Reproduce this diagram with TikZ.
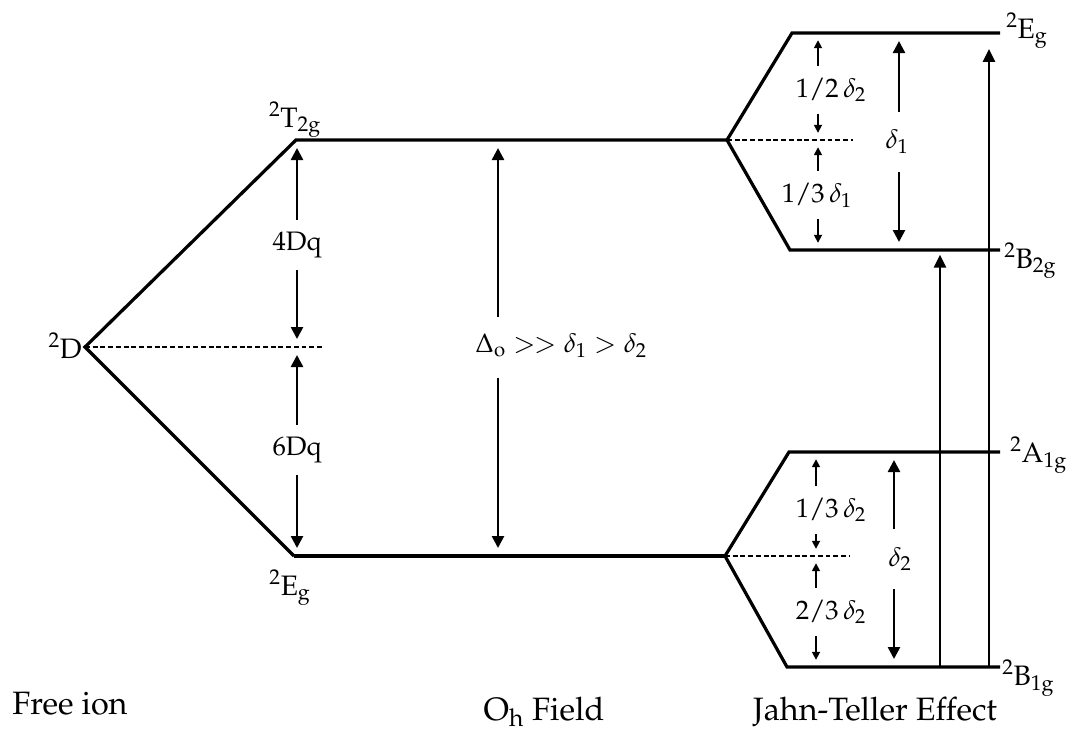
\documentclass[tikz,border=0pt]{standalone}
\usepackage[T1]{fontenc}
\usepackage{mathpazo}
\usetikzlibrary{arrows.meta}

\newcommand{\term}[2]{$^{2}\mathrm{#1}_{\mathrm{#2}}$}

\begin{document}
\begin{tikzpicture}[x=0.025cm,y=-0.025cm,
  level/.style={line width=2.3pt},
  guide/.style={line width=1.5pt,dash pattern=on 3.5pt off 2pt},
  gap/.style={-{Triangle[length=0.3cm,width=0.3cm]},line width=1.8pt,shorten >=0.2cm},
  smallgap/.style={-{Triangle[length=0.2cm,width=0.2cm]},line width=1.2pt,shorten >=0.18cm},
  trans/.style={-{Triangle[length=0.32cm,width=0.3cm]},line width=1.6pt},
  lbl/.style={font=\fontsize{19}{21}\selectfont,inner sep=0pt,minimum height=1.25cm},
  big/.style={font=\fontsize{19}{21}\selectfont,inner sep=0pt,minimum height=1.5cm},
  small/.style={font=\fontsize{19}{21}\selectfont,inner sep=0pt,minimum height=1.2cm},
  state/.style={font=\fontsize{20}{22}\selectfont,inner sep=0pt},
  caption/.style={font=\fontsize{23}{26}\selectfont,inner sep=0pt}]
\useasboundingbox (0,0) rectangle (1072,733);

% energy levels
\coordinate (D) at (85,347);
\coordinate (t2gL) at (296,140);
\coordinate (t2gR) at (727,140);
\coordinate (egL) at (294,556);
\coordinate (egR) at (725,556);
\coordinate (egJa) at (792,33);
\coordinate (egJb) at (1000,33);
\coordinate (b2gA) at (790,250);
\coordinate (b2gB) at (1000,250);
\coordinate (a1gA) at (789,452);
\coordinate (a1gB) at (1000,452);
\coordinate (b1gA) at (787,667);
\coordinate (b1gB) at (1000,667);
\draw[level] (egL) -- (D) -- (t2gL) -- (t2gR);
\draw[level] (egL) -- (egR);
\draw[level] (egJb) -- (egJa) -- (t2gR) -- (b2gA) -- (b2gB);
\draw[level] (a1gB) -- (a1gA) -- (egR) -- (b1gA) -- (b1gB);

% barycentres
\coordinate (dz) at (323,347);
\coordinate (jtU) at (853,140);
\coordinate (jtL) at (850,556);
\draw[guide] (D) -- (dz);
\draw[guide] (t2gR) -- (jtU);
\draw[guide] (egR) -- (jtL);

% state labels
\node[state,anchor=base east] (sD) at (82,358) {$^{2}$D};
\node[state,anchor=base] (sT2g) at (295,127) {\term{T}{2g}};
\node[state,anchor=base] (sEg) at (290,595) {\term{E}{g}};
\node[state,anchor=base west] (sEgJ) at (1006,38) {\term{E}{g}};
\node[state,anchor=base west] (sB2g) at (1004,268) {\term{B}{2g}};
\node[state,anchor=base west] (sA1g) at (1010,462) {\term{A}{1g}};
\node[state,anchor=base west] (sB1g) at (1002,685) {\term{B}{1g}};

% octahedral splitting
\node[lbl] (dq4) at (297,245) {4Dq};
\node[lbl] (dq6) at (297,450) {6Dq};
\draw[gap] (dq4) -- (dq4 |- t2gL);
\draw[gap] (dq4) -- (dq4 |- D);
\draw[gap] (dq6) -- (dq6 |- D);
\draw[gap] (dq6) -- (dq6 |- egL);

\node[big] (delta) at (561,346) {$\Delta_{\mathrm{o}} \mathrel{>\mkern-1mu>} \delta_1 > \delta_2$};
\coordinate (ohU) at (498,317);
\coordinate (ohD) at (498,378);
\draw[gap] (ohU) -- (ohU |- t2gL);
\draw[gap] (ohD) -- (ohD |- egL);

% Jahn-Teller, upper set
\coordinate (colA) at (818,140);
\coordinate (colB) at (899,140);
\node[small] (h12) at (831,90) {1/2\,$\delta_2$};
\node[small] (t13) at (817,195) {1/3\,$\delta_1$};
\node[big] (d1) at (897,142) {$\delta_1$};
\draw[smallgap] (h12.north -| colA) -- (colA |- egJa);
\draw[smallgap] (h12.south -| colA) -- (colA);
\draw[smallgap] (t13.north -| colA) -- (colA);
\draw[smallgap] (t13.south -| colA) -- (colA |- b2gA);
\draw[gap] (d1.north -| colB) -- (colB |- egJa);
\draw[gap] (d1.south -| colB) -- (colB |- b2gA);

% Jahn-Teller, lower set
\coordinate (colC) at (816,556);
\coordinate (colD) at (894,556);
\node[small] (t13b) at (831,510) {1/3\,$\delta_2$};
\node[small] (t23) at (831,612) {2/3\,$\delta_2$};
\node[big] (d2) at (900,559) {$\delta_2$};
\draw[smallgap] (t13b.north -| colC) -- (colC |- a1gA);
\draw[smallgap] (t13b.south -| colC) -- (colC);
\draw[smallgap] (t23.north -| colC) -- (colC);
\draw[smallgap] (t23.south -| colC) -- (colC |- b1gA);
\draw[gap] (d2.north -| colD) -- (colD |- a1gA);
\draw[gap] (d2.south -| colD) -- (colD |- b1gA);

% transitions
\coordinate (up1) at (940,667);
\coordinate (up2) at (989,667);
\draw[trans,shorten >=0.12cm] (up1) -- (up1 |- b2gA);
\draw[trans,shorten >=0.4cm] (up2) -- (up2 |- egJa);

% captions
\node[caption,anchor=base] (cFree) at (70,714) {Free ion};
\node[caption,anchor=base] (cOh) at (544,720) {O$_{\mathrm{h}}$ Field};
\node[caption,anchor=base] (cJT) at (875,720) {Jahn-Teller Effect};
\end{tikzpicture}
\end{document}
